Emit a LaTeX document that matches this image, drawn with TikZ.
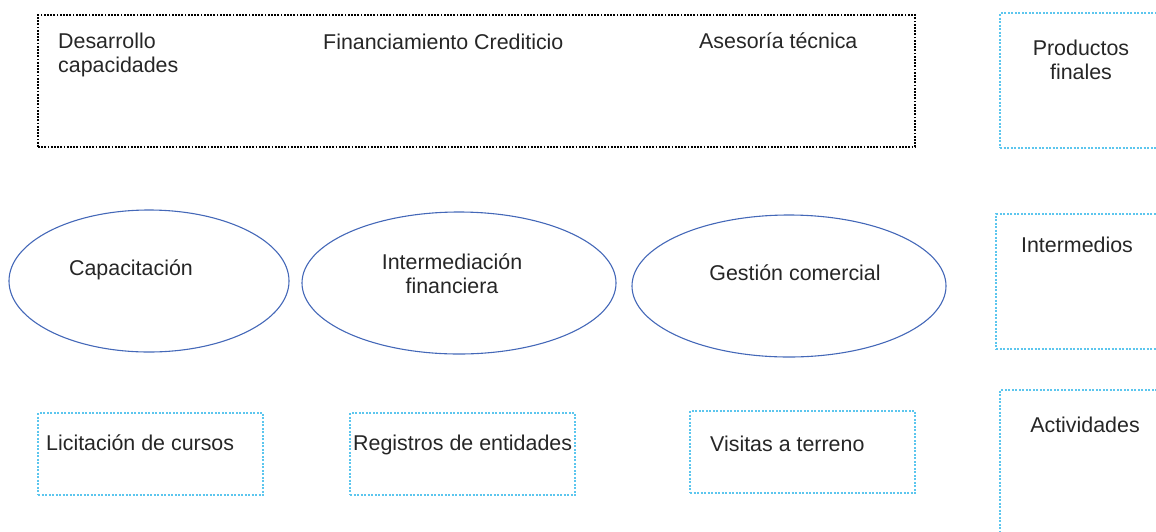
\documentclass[tikz,border=0pt]{standalone}
\usepackage{fontspec}
\setmainfont{Liberation Sans}
\usetikzlibrary{shapes.geometric}
\definecolor{ovalblue}{HTML}{4468B8}
\definecolor{dotcyan}{HTML}{5CC6EE}
\definecolor{txtgray}{HTML}{262626}
\begin{document}
\begin{tikzpicture}[x=1pt,y=-1pt,
    lbl/.style={font=\fontsize{21.4}{23.5}\selectfont, text=txtgray, inner sep=0pt},
    bluebox/.style={draw=dotcyan, line width=2.4pt, dash pattern=on 2pt off 1.5pt, anchor=north west, inner sep=0pt},
    blackbox/.style={draw=black, line width=2pt, dash pattern=on 1.8pt off 1.4pt, anchor=north west, inner sep=0pt},
    oval/.style={draw=ovalblue, line width=1.1pt, ellipse, inner sep=0pt, minimum height=142pt}]
  \useasboundingbox (0,0) rectangle (1156,531);
  \clip (0,0) rectangle (1156,531);

  % productos finales
  \node[blackbox, minimum width=877pt, minimum height=132pt] (finales) at (37,14) {};
  \node[lbl, anchor=base west, align=left] (desarrollo) at (58,72) {Desarrollo\\capacidades};
  \node[lbl, anchor=base west] (financ) at (323,49) {Financiamiento Crediticio};
  \node[lbl, anchor=base west] (asesoria) at (699,48) {Asesoría técnica};

  % intermedios
  \node[oval, minimum width=280pt] (capac) at (149,281) {};
  \node[oval, minimum width=314pt] (interm) at (459,283) {};
  \node[oval, minimum width=314pt] (gestion) at (789,286) {};
  \node[lbl, anchor=base] (capactxt) at (131,275) {Capacitación};
  \node[lbl, anchor=base, align=center] (intermtxt) at (452,293) {Intermediación\\financiera};
  \node[lbl, anchor=base] (gestiontxt) at (795,280) {Gestión comercial};

  % actividades
  \foreach \name/\x/\y/\tx/\ty/\txt in {licit/37/412/46/450/Licitación de cursos,
      regis/349/412/353/450/Registros de entidades,
      visit/689/410/710/451/Visitas a terreno} {
    \node[bluebox, minimum width=225pt, minimum height=82pt] (\name) at (\x,\y) {};
    \node[lbl, anchor=base west] (\name txt) at (\tx,\ty) {\txt};
  }

  % columna derecha
  \node[bluebox, minimum width=170pt, minimum height=135pt] (prodbox) at (999,12) {};
  \node[bluebox, minimum width=175pt, minimum height=135pt] (intbox) at (995,213) {};
  \node[bluebox, minimum width=170pt, minimum height=160pt] (actbox) at (999,389) {};
  \node[lbl, anchor=base, align=center] (prodtxt) at (1081,79) {Productos\\finales};
  \node[lbl, anchor=base] (inttxt) at (1077,252) {Intermedios};
  \node[lbl, anchor=base] (acttxt) at (1085,432) {Actividades};
\end{tikzpicture}
\end{document}
